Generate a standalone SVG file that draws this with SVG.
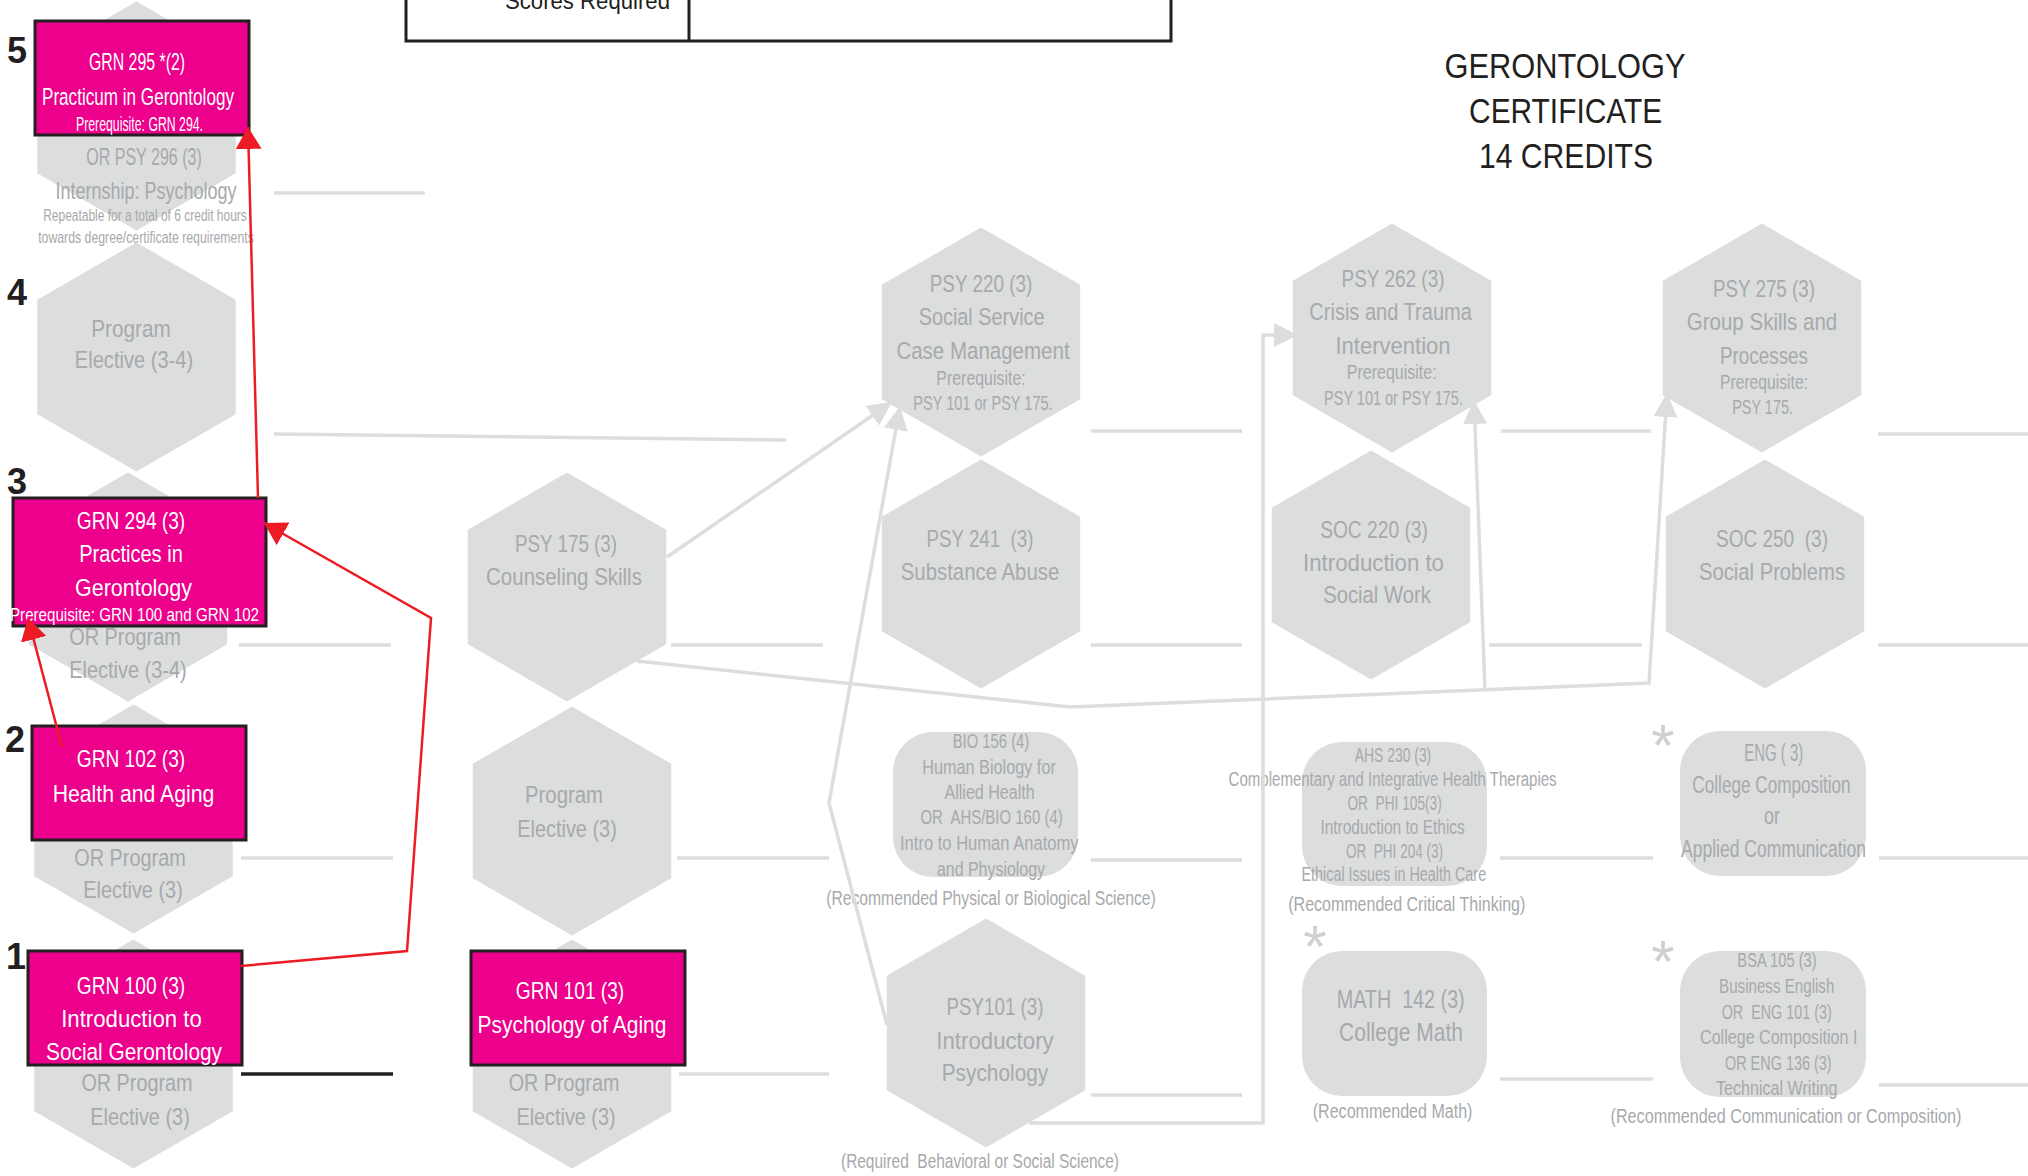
<svg xmlns="http://www.w3.org/2000/svg" xmlns:xlink="http://www.w3.org/1999/xlink" width="2028" height="1176" viewBox="0 0 2028 1176">
<style>
.hex{fill:#dcdddd}
.rr{fill:#dcdddd}
.t{font-family:"Liberation Sans",Arial,sans-serif;fill:#a7a9ac;text-anchor:middle}
.w{fill:#ffffff}
.k{fill:#231f20}
.b{font-size:24.5px}
.s{font-size:19.5px}
.xs{font-size:17px}
.box{fill:#ec008c;stroke:#231f20;stroke-width:3}
.row{stroke:#dcdddd;stroke-width:3.5;fill:none}
.gc{stroke:#dcdddd;stroke-width:3.5;fill:none}
.rc{stroke:#ed1c24;stroke-width:2.5;fill:none}
.num{font-family:"Liberation Sans",Arial,sans-serif;font-weight:bold;font-size:36px;fill:#231f20;text-anchor:middle}
.ast{font-family:"Liberation Sans",Arial,sans-serif;font-size:60px;fill:#cfd0d1;text-anchor:middle}
</style>
<defs>
<polygon id="hx" points="0,-114.5 99.2,-57.25 99.2,57.25 0,114.5 -99.2,57.25 -99.2,-57.25"/>
<marker id="ra" markerUnits="userSpaceOnUse" markerWidth="24" markerHeight="26" refX="22" refY="13" orient="auto"><path d="M0,0 L22,13 L0,26 z" fill="#ed1c24"/></marker>
<marker id="ga" markerUnits="userSpaceOnUse" markerWidth="26" markerHeight="26" refX="24" refY="12" orient="auto"><path d="M0,0 L24,12 L0,24 z" fill="#dcdddd"/></marker>
</defs>

<g id="scores-table">
<rect x="406" y="-10" width="765" height="51" fill="none" stroke="#231f20" stroke-width="3"/>
<line x1="689" y1="-10" x2="689" y2="41" stroke="#231f20" stroke-width="3"/>
<text class="t k" style="font-size:24px;text-anchor:end" x="670" y="9" textLength="165" lengthAdjust="spacingAndGlyphs">Scores Required</text>
</g>

<g id="title">
<text class="t k" style="font-size:35px" x="1565" y="78" textLength="241" lengthAdjust="spacingAndGlyphs">GERONTOLOGY</text>
<text class="t k" style="font-size:35px" x="1565.6" y="123" textLength="193" lengthAdjust="spacingAndGlyphs">CERTIFICATE</text>
<text class="t k" style="font-size:35px" x="1566" y="168" textLength="174" lengthAdjust="spacingAndGlyphs">14 CREDITS</text>
</g>

<g id="step-numbers">
<text class="num" x="17" y="63">5</text>
<text class="num" x="17" y="305">4</text>
<text class="num" x="17" y="494">3</text>
<text class="num" x="15" y="752">2</text>
<text class="num" x="16" y="969">1</text>
</g>

<g id="rows">
<line class="row" x1="274" y1="193" x2="425" y2="193"/>
<line class="row" x1="274" y1="434" x2="786" y2="440"/>
<line class="row" x1="1091" y1="431" x2="1242" y2="431"/>
<line class="row" x1="1501" y1="431" x2="1651" y2="431"/>
<line class="row" x1="1878" y1="434" x2="2028" y2="434"/>
<line class="row" x1="239" y1="645" x2="391" y2="645"/>
<line class="row" x1="671" y1="645" x2="823" y2="645"/>
<line class="row" x1="1091" y1="645" x2="1242" y2="645"/>
<line class="row" x1="1489" y1="645" x2="1642" y2="645"/>
<line class="row" x1="1878" y1="645" x2="2028" y2="645"/>
<line class="row" x1="241" y1="858" x2="393" y2="858"/>
<line class="row" x1="677" y1="858" x2="829" y2="858"/>
<line class="row" x1="1091" y1="860" x2="1242" y2="860"/>
<line class="row" x1="1500" y1="858" x2="1653" y2="858"/>
<line class="row" x1="1879" y1="858" x2="2028" y2="858"/>
<line x1="241" y1="1074" x2="393" y2="1074" stroke="#231f20" stroke-width="3.5"/>
<line class="row" x1="679" y1="1074" x2="829" y2="1074"/>
<line class="row" x1="1091" y1="1095" x2="1242" y2="1095"/>
<line class="row" x1="1500" y1="1079" x2="1653" y2="1079"/>
<line class="row" x1="1879" y1="1085" x2="2028" y2="1085"/>
</g>

<g id="psy296">
<use xlink:href="#hx" href="#hx" class="hex" x="136.5" y="116"/>
<text class="t b" x="144" y="165" textLength="115.6" lengthAdjust="spacingAndGlyphs">OR PSY 296 (3)</text>
<text class="t b" x="146" y="199" textLength="180.8" lengthAdjust="spacingAndGlyphs">Internship: Psychology</text>
<text class="t xs" x="145" y="221" textLength="203.6" lengthAdjust="spacingAndGlyphs">Repeatable for a total of 6 credit hours</text>
<text class="t xs" x="146" y="243" textLength="215.6" lengthAdjust="spacingAndGlyphs">towards degree/certificate requirements</text>
</g>

<g id="elective-4">
<use xlink:href="#hx" href="#hx" class="hex" x="136.5" y="357"/>
<text class="t b" x="131" y="337" textLength="79.5" lengthAdjust="spacingAndGlyphs">Program</text>
<text class="t b" x="134" y="368" textLength="118.3" lengthAdjust="spacingAndGlyphs">Elective (3-4)</text>
</g>

<g id="elective-3a">
<use xlink:href="#hx" href="#hx" class="hex" x="128" y="587"/>
<text class="t b" x="125" y="645" textLength="111.6" lengthAdjust="spacingAndGlyphs">OR Program</text>
<text class="t b" x="128" y="678" textLength="117.4" lengthAdjust="spacingAndGlyphs">Elective (3-4)</text>
</g>

<g id="elective-2">
<use xlink:href="#hx" href="#hx" class="hex" x="133.5" y="819"/>
<text class="t b" x="130" y="866" textLength="111.6" lengthAdjust="spacingAndGlyphs">OR Program</text>
<text class="t b" x="133" y="898" textLength="99.6" lengthAdjust="spacingAndGlyphs">Elective (3)</text>
</g>

<g id="elective-1">
<use xlink:href="#hx" href="#hx" class="hex" x="133.5" y="1054"/>
<text class="t b" x="137" y="1091" textLength="111.2" lengthAdjust="spacingAndGlyphs">OR Program</text>
<text class="t b" x="140" y="1125" textLength="99.6" lengthAdjust="spacingAndGlyphs">Elective (3)</text>
</g>

<g id="psy175">
<use xlink:href="#hx" href="#hx" class="hex" x="567" y="587"/>
<text class="t b" x="566" y="552" textLength="102.2" lengthAdjust="spacingAndGlyphs">PSY 175 (3)</text>
<text class="t b" x="564" y="585" textLength="155.8" lengthAdjust="spacingAndGlyphs">Counseling Skills</text>
</g>

<g id="elective-c2">
<use xlink:href="#hx" href="#hx" class="hex" x="572" y="821"/>
<text class="t b" x="564" y="803" textLength="78" lengthAdjust="spacingAndGlyphs">Program</text>
<text class="t b" x="567" y="837" textLength="99.6" lengthAdjust="spacingAndGlyphs">Elective (3)</text>
</g>

<g id="elective-c2b">
<use xlink:href="#hx" href="#hx" class="hex" x="572" y="1054"/>
<text class="t b" x="564" y="1091" textLength="110.7" lengthAdjust="spacingAndGlyphs">OR Program</text>
<text class="t b" x="566" y="1125" textLength="99.1" lengthAdjust="spacingAndGlyphs">Elective (3)</text>
</g>

<g id="psy220">
<use xlink:href="#hx" href="#hx" class="hex" x="981" y="342"/>
<text class="t b" x="981" y="292" textLength="102.7" lengthAdjust="spacingAndGlyphs">PSY 220 (3)</text>
<text class="t b" x="981.6" y="325" textLength="125.9" lengthAdjust="spacingAndGlyphs">Social Service</text>
<text class="t b" x="983" y="359" textLength="173.2" lengthAdjust="spacingAndGlyphs">Case Management</text>
<text class="t s" x="981" y="385" textLength="89.3" lengthAdjust="spacingAndGlyphs">Prerequisite:</text>
<text class="t s" x="983" y="410" textLength="139.3" lengthAdjust="spacingAndGlyphs">PSY 101 or PSY 175.</text>
</g>

<g id="psy241">
<use xlink:href="#hx" href="#hx" class="hex" x="981" y="574"/>
<text class="t b" xml:space="preserve" x="980" y="547" textLength="107" lengthAdjust="spacingAndGlyphs">PSY 241  (3)</text>
<text class="t b" x="980" y="580" textLength="158.5" lengthAdjust="spacingAndGlyphs">Substance Abuse</text>
</g>

<g id="psy101">
<use xlink:href="#hx" href="#hx" class="hex" x="986" y="1033"/>
<text class="t b" x="995" y="1015" textLength="97" lengthAdjust="spacingAndGlyphs">PSY101 (3)</text>
<text class="t b" x="995" y="1049" textLength="117.3" lengthAdjust="spacingAndGlyphs">Introductory</text>
<text class="t b" x="995" y="1081" textLength="106.6" lengthAdjust="spacingAndGlyphs">Psychology</text>
<text class="t s" xml:space="preserve" x="980" y="1168" textLength="278" lengthAdjust="spacingAndGlyphs">(Required  Behavioral or Social Science)</text>
</g>

<g id="bio156">
<rect class="rr" x="893" y="732" width="185" height="145" rx="40" ry="40"/>
<text class="t s" x="991" y="748" textLength="76.5" lengthAdjust="spacingAndGlyphs">BIO 156 (4)</text>
<text class="t s" x="989" y="774" textLength="133.7" lengthAdjust="spacingAndGlyphs">Human Biology for</text>
<text class="t s" x="989.6" y="799" textLength="90.3" lengthAdjust="spacingAndGlyphs">Allied Health</text>
<text class="t s" xml:space="preserve" x="991.6" y="824" textLength="142.3" lengthAdjust="spacingAndGlyphs">OR  AHS/BIO 160 (4)</text>
<text class="t s" x="989.3" y="850" textLength="178.6" lengthAdjust="spacingAndGlyphs">Intro to Human Anatomy</text>
<text class="t s" x="991" y="876" textLength="108.2" lengthAdjust="spacingAndGlyphs">and Physiology</text>
<text class="t s" x="991" y="905" textLength="329.6" lengthAdjust="spacingAndGlyphs">(Recommended Physical or Biological Science)</text>
</g>

<g id="psy262">
<use xlink:href="#hx" href="#hx" class="hex" x="1392" y="338"/>
<text class="t b" x="1393" y="287" textLength="103" lengthAdjust="spacingAndGlyphs">PSY 262 (3)</text>
<text class="t b" x="1390.6" y="320" textLength="162.6" lengthAdjust="spacingAndGlyphs">Crisis and Trauma</text>
<text class="t b" x="1393" y="354" textLength="115" lengthAdjust="spacingAndGlyphs">Intervention</text>
<text class="t s" x="1391.7" y="379" textLength="89.8" lengthAdjust="spacingAndGlyphs">Prerequisite:</text>
<text class="t s" x="1393.5" y="405" textLength="138.9" lengthAdjust="spacingAndGlyphs">PSY 101 or PSY 175.</text>
</g>

<g id="soc220">
<use xlink:href="#hx" href="#hx" class="hex" x="1371" y="565"/>
<text class="t b" x="1374" y="538" textLength="107.7" lengthAdjust="spacingAndGlyphs">SOC 220 (3)</text>
<text class="t b" x="1373.5" y="571" textLength="141" lengthAdjust="spacingAndGlyphs">Introduction to</text>
<text class="t b" x="1377" y="603" textLength="107.7" lengthAdjust="spacingAndGlyphs">Social Work</text>
</g>

<g id="ahs230">
<rect class="rr" x="1302" y="742" width="185" height="144" rx="40" ry="40"/>
<text class="t s" x="1393" y="762" textLength="76.5" lengthAdjust="spacingAndGlyphs">AHS 230 (3)</text>
<text class="t s" x="1392.6" y="786" textLength="328" lengthAdjust="spacingAndGlyphs">Complementary and Integrative Health Therapies</text>
<text class="t s" xml:space="preserve" x="1394.6" y="810" textLength="94.4" lengthAdjust="spacingAndGlyphs">OR  PHI 105(3)</text>
<text class="t s" x="1392.6" y="834" textLength="144.4" lengthAdjust="spacingAndGlyphs">Introduction to Ethics</text>
<text class="t s" xml:space="preserve" x="1394.5" y="858" textLength="97" lengthAdjust="spacingAndGlyphs">OR  PHI 204 (3)</text>
<text class="t s" x="1393.8" y="881" textLength="184.7" lengthAdjust="spacingAndGlyphs">Ethical Issues in Health Care</text>
<text class="t s" x="1406.8" y="911" textLength="237" lengthAdjust="spacingAndGlyphs">(Recommended Critical Thinking)</text>
</g>

<g id="math142">
<text class="ast" x="1315" y="967">*</text>
<rect class="rr" x="1302" y="951" width="185" height="145" rx="40" ry="40"/>
<text class="t" xml:space="preserve" style="font-size:25px" x="1400.7" y="1008" textLength="128" lengthAdjust="spacingAndGlyphs">MATH  142 (3)</text>
<text class="t" style="font-size:25px" x="1401" y="1041" textLength="124" lengthAdjust="spacingAndGlyphs">College Math</text>
<text class="t s" x="1392.6" y="1118" textLength="159.7" lengthAdjust="spacingAndGlyphs">(Recommended Math)</text>
</g>

<g id="psy275">
<use xlink:href="#hx" href="#hx" class="hex" x="1762" y="338"/>
<text class="t b" x="1764" y="297" textLength="102" lengthAdjust="spacingAndGlyphs">PSY 275 (3)</text>
<text class="t b" x="1762" y="330" textLength="150.5" lengthAdjust="spacingAndGlyphs">Group Skills and</text>
<text class="t b" x="1764" y="364" textLength="88" lengthAdjust="spacingAndGlyphs">Processes</text>
<text class="t s" x="1764" y="389" textLength="88" lengthAdjust="spacingAndGlyphs">Prerequisite:</text>
<text class="t s" x="1762.6" y="414" textLength="60.7" lengthAdjust="spacingAndGlyphs">PSY 175.</text>
</g>

<g id="soc250">
<use xlink:href="#hx" href="#hx" class="hex" x="1765" y="574"/>
<text class="t b" xml:space="preserve" x="1772" y="547" textLength="112" lengthAdjust="spacingAndGlyphs">SOC 250  (3)</text>
<text class="t b" x="1772" y="580" textLength="146" lengthAdjust="spacingAndGlyphs">Social Problems</text>
</g>

<g id="eng">
<text class="ast" x="1663" y="766">*</text>
<rect class="rr" x="1680" y="731" width="186" height="145" rx="40" ry="40"/>
<text class="t" xml:space="preserve" style="font-size:23px" x="1773.8" y="761" textLength="59" lengthAdjust="spacingAndGlyphs">ENG ( 3)</text>
<text class="t" style="font-size:23px" x="1771.5" y="793" textLength="158.3" lengthAdjust="spacingAndGlyphs">College Composition</text>
<text class="t" style="font-size:23px" x="1772" y="824" textLength="16" lengthAdjust="spacingAndGlyphs">or</text>
<text class="t" style="font-size:23px" x="1773.5" y="857" textLength="185" lengthAdjust="spacingAndGlyphs">Applied Communication</text>
</g>

<g id="bsa105">
<text class="ast" x="1663" y="982">*</text>
<rect class="rr" x="1680" y="951" width="186" height="146" rx="40" ry="40"/>
<text class="t s" x="1777" y="967" textLength="79.3" lengthAdjust="spacingAndGlyphs">BSA 105 (3)</text>
<text class="t s" x="1776.7" y="993" textLength="115.3" lengthAdjust="spacingAndGlyphs">Business English</text>
<text class="t s" xml:space="preserve" x="1776.7" y="1019" textLength="110" lengthAdjust="spacingAndGlyphs">OR  ENG 101 (3)</text>
<text class="t s" x="1778.7" y="1044" textLength="157.3" lengthAdjust="spacingAndGlyphs">College Composition I</text>
<text class="t s" x="1778.3" y="1070" textLength="106.7" lengthAdjust="spacingAndGlyphs">OR ENG 136 (3)</text>
<text class="t s" x="1776.7" y="1095" textLength="121.3" lengthAdjust="spacingAndGlyphs">Technical Writing</text>
<text class="t s" x="1786" y="1123" textLength="351" lengthAdjust="spacingAndGlyphs">(Recommended Communication or Composition)</text>
</g>

<g id="grn295">
<rect class="box" x="35" y="21" width="214" height="114"/>
<text class="t w b" x="137" y="70" textLength="96" lengthAdjust="spacingAndGlyphs">GRN 295 *(2)</text>
<text class="t w b" x="138" y="105" textLength="192" lengthAdjust="spacingAndGlyphs">Practicum in Gerontology</text>
<text class="t w s" x="139.5" y="131" textLength="127" lengthAdjust="spacingAndGlyphs">Prerequisite: GRN 294.</text>
</g>

<g id="grn294">
<rect class="box" x="13" y="498" width="253" height="128"/>
<text class="t w b" x="131" y="529" textLength="108.5" lengthAdjust="spacingAndGlyphs">GRN 294 (3)</text>
<text class="t w b" x="131" y="562" textLength="103.6" lengthAdjust="spacingAndGlyphs">Practices in</text>
<text class="t w b" x="133.5" y="596" textLength="117" lengthAdjust="spacingAndGlyphs">Gerontology</text>
<text class="t w" style="font-size:18.6px" x="134.5" y="621" textLength="249" lengthAdjust="spacingAndGlyphs">Prerequisite: GRN 100 and GRN 102</text>
</g>

<g id="grn102">
<rect class="box" x="32" y="726" width="214" height="114"/>
<text class="t w b" x="131" y="767" textLength="108.5" lengthAdjust="spacingAndGlyphs">GRN 102 (3)</text>
<text class="t w b" x="133.5" y="802" textLength="161.6" lengthAdjust="spacingAndGlyphs">Health and Aging</text>
</g>

<g id="grn100">
<rect class="box" x="28" y="951" width="214" height="114"/>
<text class="t w b" x="131" y="994" textLength="108.5" lengthAdjust="spacingAndGlyphs">GRN 100 (3)</text>
<text class="t w b" x="131.5" y="1027" textLength="140.6" lengthAdjust="spacingAndGlyphs">Introduction to</text>
<text class="t w b" x="134" y="1060" textLength="176" lengthAdjust="spacingAndGlyphs">Social Gerontology</text>
</g>

<g id="grn101">
<rect class="box" x="471" y="951" width="214" height="114"/>
<text class="t w b" x="570" y="999" textLength="108.5" lengthAdjust="spacingAndGlyphs">GRN 101 (3)</text>
<text class="t w b" x="572" y="1033" textLength="188.8" lengthAdjust="spacingAndGlyphs">Psychology of Aging</text>
</g>

<g id="connectors">
<polyline class="gc" points="667,557 892,402" marker-end="url(#ga)"/>
<polyline class="gc" points="887,1025 829,803 900,406" marker-end="url(#ga)"/>
<polyline class="gc" points="637,661 1070,707 1649,683 1667,393" marker-end="url(#ga)"/>
<polyline class="gc" points="1485,690 1474,400" marker-end="url(#ga)"/>
<polyline class="gc" points="1029,1123 1263,1123 1263,335 1298,335" marker-end="url(#ga)"/>
<polyline class="rc" points="258,498 248,127" marker-end="url(#ra)"/>
<polyline class="rc" points="62,747 28,618" marker-end="url(#ra)"/>
<polyline class="rc" points="241,966 407,951 431,618 264,523" marker-end="url(#ra)"/>
</g>
</svg>
